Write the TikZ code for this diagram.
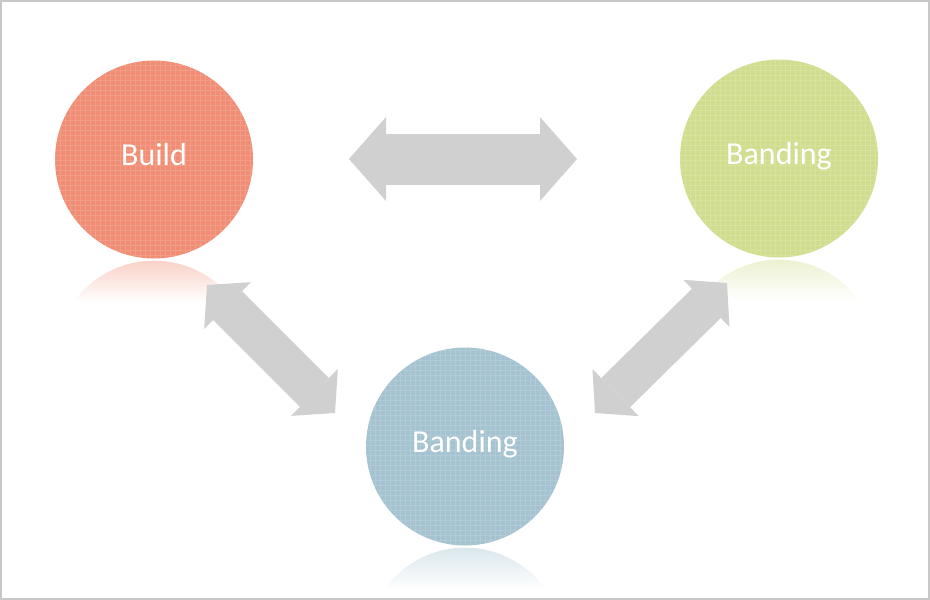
\documentclass[tikz,border=0pt]{standalone}
\usepackage{fontspec}
\setmainfont{Carlito}
\usetikzlibrary{arrows.meta, calc}
\definecolor{buildred}{RGB}{240,141,116}
\definecolor{bandgreen}{RGB}{209,221,142}
\definecolor{bandblue}{RGB}{164,194,207}
\definecolor{arrowgray}{RGB}{208,208,208}
\definecolor{framegray}{RGB}{200,200,200}
\tikzset{
  bubble/.style={circle, minimum size=198pt, inner sep=0pt, text=white, font=\fontsize{32}{38}\selectfont, text height=20pt, text depth=9pt},
  biglink/.style={draw=arrowgray, line width=51pt, {Triangle[length=37pt,width=84pt,line width=0pt]}-{Triangle[length=37pt,width=84pt,line width=0pt]}},
  smalllink/.style={draw=arrowgray, line width=41pt, {Triangle[length=29pt,width=66pt,line width=0pt]}-{Triangle[length=29pt,width=66pt,line width=0pt]}}
}

\begin{document}
\begin{tikzpicture}[x=1pt, y=-1pt]

    % marco
    \useasboundingbox (0,0) rectangle (930,600);
    \draw[framegray, line width=2pt] (1,1) rectangle (929,599);

    % 1. Circulos
    \node[bubble, fill=buildred] (build) at (154,159.5) {Build};
    \node[bubble, fill=bandgreen] (bandR) at (779,158.5) {Banding};
    \node[bubble, fill=bandblue] (bandB) at (465,446.5) {Banding};

    % textura y reflejo
    \foreach \n/\c in {build/buildred, bandR/bandgreen, bandB/bandblue} {
        \begin{scope}
            \clip (\n.center) circle (99pt);
            \draw[white, opacity=0.15, line width=0.8pt, step=5pt] ($(\n.center)+(-100,-100)$) grid ($(\n.center)+(100,100)$);
        \end{scope}
        \begin{scope}
            \clip ($(\n.south)+(0,101)$) circle (99pt);
            \shade[top color=\c!40!white, bottom color=white] ($(\n.south)+(-99,2)$) rectangle ($(\n.south)+(99,44)$);
        \end{scope}
    }

    % 2. Flechas
    \coordinate (T1) at (349,159);
    \coordinate (T2) at (577,159);
    \coordinate (L1) at (207,285);
    \coordinate (L2) at (335,413);
    \coordinate (R1) at (595,413);
    \coordinate (R2) at (727,283);

    \draw[biglink] (T1) -- (T2);
    \draw[smalllink] (L1) -- (L2);
    \draw[smalllink] (R1) -- (R2);

\end{tikzpicture}
\end{document}
